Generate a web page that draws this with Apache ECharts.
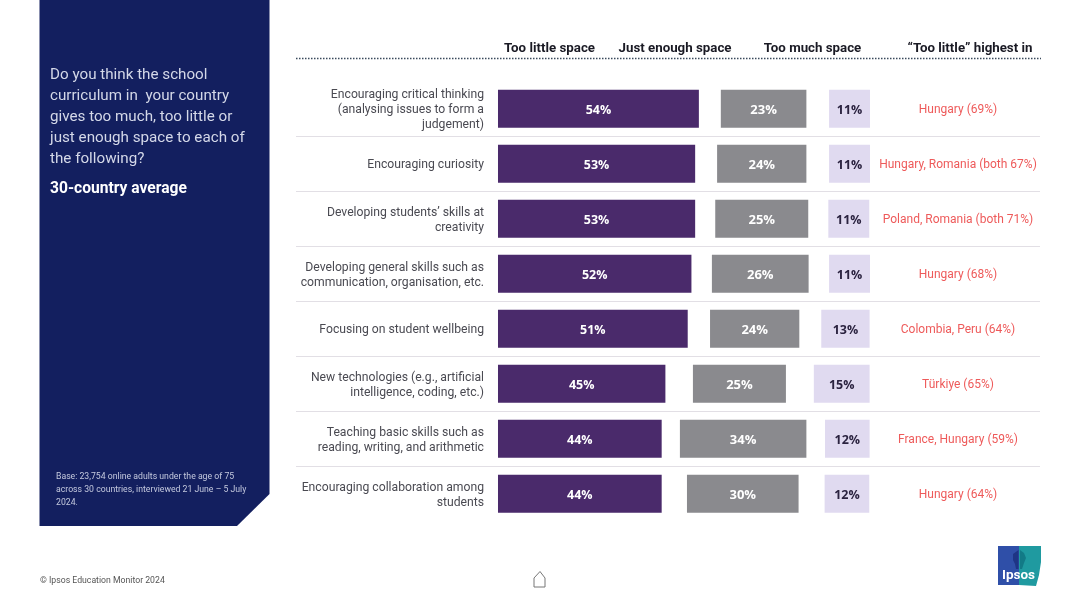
<!DOCTYPE html>
<html>
<head>
<meta charset="utf-8">
<style>html,body{margin:0;padding:0;background:#fff}#main{width:1080px;height:607px}</style>
<script src="https://cdn.jsdelivr.net/npm/echarts@6/dist/echarts.min.js"></script>
</head>
<body>
<div id="main"></div>
<script>
const categories = [
  'Encouraging critical thinking\n(analysing issues to form a\njudgement)',
  'Encouraging curiosity',
  'Developing students\u2019 skills at\ncreativity',
  'Developing general skills such as\ncommunication, organisation, etc.',
  'Focusing on student wellbeing',
  'New technologies (e.g., artificial\nintelligence, coding, etc.)',
  'Teaching basic skills such as\nreading, writing, and arithmetic',
  'Encouraging collaboration among\nstudents'
]
const tooLittle = [54, 53, 53, 52, 51, 45, 44, 44]
const justEnough = [23, 24, 25, 26, 24, 25, 34, 30]
const tooMuch = [11, 11, 11, 11, 13, 15, 12, 12]
// white space between the bars, it changes per row in the original
const gapLeft = [5.9, 5.9, 5.4, 5.5, 6, 7.4, 4.9, 6.8]
const gapRight = [6.1, 6.1, 5.4, 5.5, 5.9, 7.5, 5, 7]
const highestIn = [
  'Hungary (69%)',
  'Hungary, Romania (both 67%)',
  'Poland, Romania (both 71%)',
  'Hungary (68%)',
  'Colombia, Peru (64%)',
  'T\u00fcrkiye (65%)',
  'France, Hungary (59%)',
  'Hungary (64%)'
]
const headers = ['Too little space', 'Just enough space', 'Too much space', '\u201cToo little\u201d highest in']
const headerX = [549.5, 675, 812.5, 970]
const questionLines = [
  'Do you think the school',
  'curriculum in  your country',
  'gives too much, too little or',
  'just enough space to each of',
  'the following?'
]
const baseLines = [
  'Base: 23,754 online adults under the age of 75',
  'across 30 countries, interviewed 21 June \u2013 5 July',
  '2024.'
]

const font = 'Roboto'
const barFont = '"Open Sans"'

const barSeries = function (name, data, color, labelColor, labelSize) {
  return {
    name: name,
    type: 'bar',
    stack: 'all',
    data: data,
    barWidth: 38,
    itemStyle: { color: color },
    label: {
      show: true,
      position: 'inside',
      offset: [0, 2],
      formatter: '{c}%',
      color: labelColor,
      fontFamily: barFont,
      fontWeight: 'bold',
      fontSize: labelSize
    }
  }
}
const gapSeries = function (data) {
  return {
    type: 'bar',
    stack: 'all',
    data: data,
    barWidth: 38,
    silent: true,
    itemStyle: { color: 'transparent' }
  }
}

const graphics = [
  {
    type: 'polygon',
    shape: { points: [[39.5, 0], [269.5, 0], [269.5, 494], [237, 526], [39.5, 526]] },
    style: { fill: '#131f5f' }
  },
  {
    type: 'text', x: 50, y: 189.5,
    style: { text: '30-country average', fill: '#ffffff', font: 'bold 15.6px ' + font, textVerticalAlign: 'middle' }
  },
  {
    type: 'text', x: 40, y: 580.5,
    style: { text: '\u00a9 Ipsos Education Monitor 2024', fill: '#555555', font: '8.7px ' + font, textVerticalAlign: 'middle' }
  },
  // dotted rule under the headers
  {
    type: 'line',
    shape: { x1: 296, y1: 58.5, x2: 1041, y2: 58.5 },
    style: { stroke: '#3a4a5c', lineWidth: 1.5, lineDash: [1.5, 1.5] }
  },
  // home icon
  {
    type: 'polygon',
    shape: { points: [[534, 578], [540, 571.5], [545, 578], [545, 587], [534, 587]] },
    style: { fill: 'none', stroke: '#777777', lineWidth: 1 }
  },
  // logo
  {
    type: 'polygon',
    shape: { points: [[998, 546], [1019, 546], [1019, 585], [998, 585]] },
    style: { fill: '#2f4fa8' }
  },
  {
    type: 'polygon',
    shape: { points: [[1019, 546], [1041, 546], [1041, 562], [1039, 575], [1036, 586], [1019, 585]] },
    style: { fill: '#1f9aa0' }
  },
  {
    type: 'polygon',
    shape: { points: [[1018.5, 550], [1018.5, 569], [1016, 569], [1015, 564], [1013, 560], [1013, 554]] },
    style: { fill: '#1e3585' }
  },
  {
    type: 'polygon',
    shape: { points: [[1020, 550], [1024, 553], [1026, 558], [1024, 563], [1022, 569], [1020, 569]] },
    style: { fill: '#127a86' }
  },
  {
    type: 'text', left: 1002, top: 569,
    style: { text: 'Ipsos', fill: '#ffffff', font: 'bold 13.5px ' + font }
  }
]
headers.forEach((h, i) => {
  graphics.push({
    type: 'text', x: headerX[i], y: 49,
    style: { text: h, fill: '#1a1a24', font: 'bold 13.3px ' + font, textAlign: 'center', textVerticalAlign: 'middle' }
  })
})
questionLines.forEach((t, i) => {
  graphics.push({
    type: 'text', x: 50, y: 75.5 + i * 21,
    style: { text: t, fill: '#d4d8e8', font: '15.2px ' + font, textVerticalAlign: 'middle' }
  })
})
baseLines.forEach((t, i) => {
  graphics.push({
    type: 'text', x: 56, y: 477 + i * 13,
    style: { text: t, fill: '#c4c9de', font: '8.7px ' + font, textVerticalAlign: 'middle' }
  })
})

const chart = echarts.init(document.getElementById('main'), null, { renderer: 'canvas' })
chart.setOption({
  animation: false,
  backgroundColor: '#ffffff',
  // second grid only holds the row texts, they sit a bit lower than the bars
  grid: [
    { left: 296, top: 81.2, width: 744, height: 440 },
    { left: 296, top: 82.8, width: 744, height: 440 }
  ],
  xAxis: [
    {
      type: 'value',
      // 3.72px per point, zero sits where the bars start
      min: -54.3,
      max: 145.7,
      show: false
    },
    { type: 'value', gridIndex: 1, show: false }
  ],
  yAxis: [
    {
      type: 'category',
      inverse: true,
      data: categories,
      axisLine: { show: false },
      axisTick: { show: false },
      axisLabel: { show: false },
      splitLine: { show: true, lineStyle: { color: '#e2dfe5', width: 1 }, showMinLine: false, showMaxLine: false }
    },
    {
      type: 'category',
      gridIndex: 1,
      inverse: true,
      data: categories,
      offset: -202,
      axisLine: { show: false },
      axisTick: { show: false },
      splitLine: { show: false },
      axisLabel: {
        color: '#4a4a52',
        fontFamily: font,
        fontSize: 12.2,
        lineHeight: 15,
        margin: 14,
        align: 'right'
      }
    },
    {
      type: 'category',
      gridIndex: 1,
      inverse: true,
      position: 'right',
      offset: -82,
      data: highestIn,
      axisLine: { show: false },
      axisTick: { show: false },
      splitLine: { show: false },
      axisLabel: {
        color: '#ee5a5a',
        fontFamily: font,
        fontSize: 12,
        margin: 0,
        align: 'center'
      }
    }
  ],
  series: [
    barSeries('Too little space', tooLittle, '#4a2a6b', '#ffffff', 12.5),
    gapSeries(gapLeft),
    barSeries('Just enough space', justEnough, '#8a8a8e', '#ffffff', 13),
    gapSeries(gapRight),
    barSeries('Too much space', tooMuch, '#e0daf0', '#2b2340', 12.5)
  ],
  graphic: graphics
})
</script>
</body>
</html>
